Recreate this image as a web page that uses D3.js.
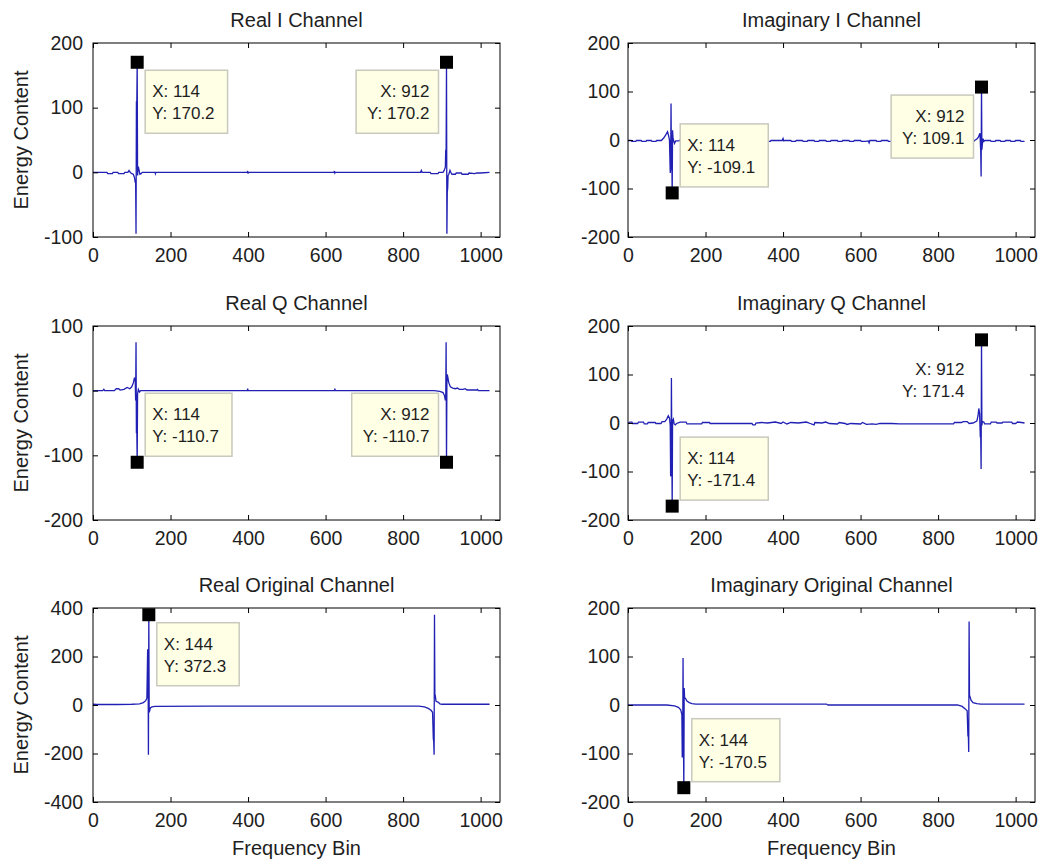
<!DOCTYPE html>
<html>
<head>
  <meta charset="utf-8">
  <title>Channel Spectra</title>
  <script src="https://cdn.jsdelivr.net/npm/d3@7.0.0/dist/d3.min.js"></script>
  <style>
    body { margin: 0; background: #fff; }
    svg text { font-family: "Liberation Sans", Arial, sans-serif; fill: #1e1e1e; }
  </style>
</head>
<body>
  <div id="chart"></div>

  <script>
    // x axis, shared by all six panels
    var xDomain = [0, 1050];
    var xTicks = [0, 200, 400, 600, 800, 1000];

    // spectra as [bin, value]
    var realI = [[0,0],[36,0],[38,-2],[50,-2],[52,0],[64,0],[66,-2],[80,-2],[82,0],[90,0],[93,3],[96,0],[100,-2],[104,-3],[107,-8],[109,-16],[110,-14],[111,-95],[112,110],[113,105],[114,170.2],[115,-5],[116,5],[117,9],[119,3],[121,-3],[124,-2],[127,0],[160,0],[161,-2],[162,0],[398,0],[399,2],[400,-2],[401,0],[622,0],[623,2],[624,-1],[625,0],[845,0],[847,3],[849,0],[870,0],[872,-2],[890,-2],[892,0],[903,0],[906,3],[909,8],[910,35],[911,30],[912,170.2],[913,-95],[914,-30],[915,-25],[916,-5],[918,-3],[921,3],[923,0],[926,-3],[935,-3],[937,-1],[950,-1],[952,-3],[968,-3],[970,-1],[985,-2],[990,-1],[1000,-1],[1023,0]];

    var imagI = [[0,-1],[8,-1],[10,-3],[20,-3],[22,-1],[34,-1],[36,-3],[46,-3],[48,-1],[60,-1],[62,-3],[72,-3],[74,-1],[86,-1],[92,4],[97,10],[102,17],[105,8],[107,0],[109,-68],[110,-60],[111,75],[112,-40],[113,-30],[114,-109.1],[115,20],[116,5],[118,-2],[120,-7],[123,-2],[132,-2],[134,0],[146,0],[148,-3],[158,-3],[160,-1],[175,-1],[177,-3],[187,-3],[189,-1],[205,-1],[207,-3],[217,-3],[219,-1],[235,-1],[237,-3],[247,-3],[249,-1],[265,-1],[267,-3],[277,-3],[279,-1],[295,-1],[297,-3],[307,-3],[309,-1],[325,-1],[327,-3],[337,-3],[339,-1],[355,-1],[357,-3],[367,-3],[369,-1],[385,-1],[398,-1],[400,3],[402,-2],[405,-1],[420,-1],[422,-3],[432,-3],[434,-1],[450,-1],[452,-3],[462,-3],[464,-1],[480,-1],[482,-3],[492,-3],[494,-1],[510,-1],[512,-3],[522,-3],[524,-1],[540,-1],[542,-3],[552,-3],[554,-1],[570,-1],[572,-3],[582,-3],[584,-1],[600,-1],[602,-3],[612,-3],[620,-2],[622,-6],[624,-1],[640,-1],[642,-3],[652,-3],[654,-1],[670,-1],[672,-3],[682,-3],[684,-1],[700,-1],[702,-3],[712,-3],[714,-1],[730,-1],[732,-3],[742,-3],[744,-1],[760,-1],[762,-3],[772,-3],[774,-1],[790,-1],[792,-3],[802,-3],[804,-1],[820,-1],[822,-3],[832,-3],[834,-1],[850,-1],[852,-3],[862,-3],[864,-1],[880,-1],[882,-3],[892,-3],[894,-1],[900,2],[904,6],[908,14],[910,-24],[911,-75],[912,109.1],[913,-20],[914,-10],[916,3],[918,-3],[921,-1],[935,-1],[937,-3],[947,-3],[949,-1],[960,-1],[962,-3],[972,-3],[974,-1],[986,-1],[988,-3],[998,-3],[1000,-1],[1012,-1],[1014,-3],[1023,-3]];

    var realQ = [[0,0],[25,0],[28,2],[30,0],[55,0],[60,3],[66,3],[70,1],[80,2],[88,5],[95,3],[100,6],[104,12],[107,20],[109,15],[110,-15],[111,75],[112,-66],[113,-60],[114,-110.7],[115,-5],[117,2],[120,-2],[123,0],[398,0],[399,3],[400,0],[623,0],[624,3],[625,0],[880,0],[895,-1],[903,-3],[907,-8],[909,-15],[910,-11],[911,75],[912,-110.7],[913,10],[914,25],[915,22],[918,12],[922,6],[928,4],[935,3],[940,4],[945,2],[955,2],[960,3],[965,1],[990,1],[992,2],[994,0],[1023,0]];

    var imagQ = [[0,-1],[5,2],[10,2],[12,-1],[25,-1],[27,2],[40,2],[42,-2],[50,-2],[52,1],[70,1],[72,-1],[85,-1],[88,3],[95,3],[100,8],[104,15],[107,10],[109,-5],[110,-110],[111,-103],[112,93],[113,-40],[114,-171.4],[115,5],[117,8],[119,-2],[122,-4],[125,-1],[135,2],[150,2],[152,-2],[190,-2],[192,1],[210,1],[212,-1],[320,-1],[322,-4],[328,-4],[330,0],[345,1],[360,0],[380,2],[395,-1],[400,2],[410,-2],[420,1],[440,0],[460,2],[470,-1],[480,-4],[482,1],[500,0],[510,2],[520,-1],[540,-2],[545,1],[560,-1],[565,-3],[575,-1],[600,-2],[605,1],[615,-3],[630,-2],[640,-3],[650,-1],[680,-1],[700,-2],[840,-2],[842,1],[860,1],[865,3],[875,3],[880,-1],[890,0],[900,4],[903,15],[905,30],[907,20],[909,-30],[910,-28],[911,-95],[912,171.4],[913,-5],[914,3],[918,2],[920,-2],[935,-2],[937,2],[950,2],[952,0],[965,0],[967,2],[990,2],[992,-1],[1000,-1],[1005,2],[1015,1],[1023,0]];

    var realOrig = [[0,3],[10,2],[60,2],[100,3],[120,5],[130,10],[136,18],[139,28],[141,230],[142,225],[143,-205],[144,372.3],[145,-30],[146,-25],[148,-12],[152,-8],[160,-6],[300,-5],[500,-5],[700,-5],[840,-5],[855,-8],[865,-14],[872,-22],[876,-30],[878,-140],[879,-150],[880,-205],[881,372],[882,45],[883,40],[885,15],[890,12],[895,5],[900,3],[1023,3]];

    var imagOrig = [[0,0],[100,0],[120,-2],[130,-5],[136,-10],[139,-20],[140,-108],[141,-100],[142,97],[143,-60],[144,-170.5],[145,35],[146,15],[148,14],[152,8],[158,5],[165,3],[175,2],[512,2],[516,0],[850,0],[862,-3],[870,-8],[875,-12],[877,-65],[878,-60],[879,-97],[880,172],[881,20],[882,18],[885,10],[890,5],[900,3],[910,2],[1023,2]];

    // data tips [bin, value]
    var realITips = [[114, 170.2], [912, 170.2]];
    var imagITips = [[114, -109.1], [912, 109.1]];
    var realQTips = [[114, -110.7], [912, -110.7]];
    var imagQTips = [[114, -171.4], [912, 171.4]];
    var realOrigTips = [[144, 372.3]];
    var imagOrigTips = [[144, -170.5]];

    // layout
    var colX = [93, 628];
    var rowY = [43, 326, 608];
    var pw = 407, ph = 194;

    var panels = [
      { title: "Real I Channel", data: realI, yDomain: [-100, 200], yTicks: [-100, 0, 100, 200], tips: realITips,
        tipPos: [["right", "below"], ["left", "below"]], col: 0, row: 0 },
      { title: "Imaginary I Channel", data: imagI, yDomain: [-200, 200], yTicks: [-200, -100, 0, 100, 200], tips: imagITips,
        tipPos: [["right", "above"], ["left", "below"]], col: 1, row: 0 },
      { title: "Real Q Channel", data: realQ, yDomain: [-200, 100], yTicks: [-200, -100, 0, 100], tips: realQTips,
        tipPos: [["right", "above"], ["left", "above"]], col: 0, row: 1 },
      { title: "Imaginary Q Channel", data: imagQ, yDomain: [-200, 200], yTicks: [-200, -100, 0, 100, 200], tips: imagQTips,
        tipPos: [["right", "above"], ["left", "below", "plain"]], col: 1, row: 1 },
      { title: "Real Original Channel", data: realOrig, yDomain: [-400, 400], yTicks: [-400, -200, 0, 200, 400], tips: realOrigTips,
        tipPos: [["right", "below"]], col: 0, row: 2 },
      { title: "Imaginary Original Channel", data: imagOrig, yDomain: [-200, 200], yTicks: [-200, -100, 0, 100, 200], tips: imagOrigTips,
        tipPos: [["right", "above"]], col: 1, row: 2 }
    ];

    var svg = d3.select("#chart").append("svg")
      .attr("width", 1041)
      .attr("height", 863);

    var x = d3.scaleLinear().domain(xDomain).range([0, pw]);
    // plain hyphen minus, like the original plot
    var plain = function(d) { return String(d); };

    function styleAxis(sel, size) {
      sel.select(".domain").remove();
      sel.selectAll(".tick line").attr("stroke", "#000");
      sel.selectAll(".tick text")
        .attr("font-family", null)
        .style("font-size", size + "px")
        .attr("fill", "#1e1e1e");
      sel.attr("font-family", null).attr("font-size", null);
    }

    panels.forEach(function(p) {
      var g = svg.append("g")
        .attr("transform", "translate(" + colX[p.col] + "," + rowY[p.row] + ")");

      var y = d3.scaleLinear().domain(p.yDomain).range([ph, 0]);

      // trace
      var line = d3.line()
        .x(function(d) { return x(d[0]); })
        .y(function(d) { return y(d[1]); });

      g.append("path")
        .datum(p.data)
        .attr("d", line)
        .attr("fill", "none")
        .attr("stroke", "#2020b4")
        .attr("stroke-width", 1.3)
        .attr("stroke-linejoin", "miter");

      // axes, ticks pointing inward on all four sides
      g.append("g")
        .attr("transform", "translate(0," + ph + ")")
        .call(d3.axisBottom(x).tickValues(xTicks).tickFormat(plain).tickSizeInner(-5).tickSizeOuter(0).tickPadding(11))
        .call(styleAxis, 19.5);
      g.append("g")
        .call(d3.axisTop(x).tickValues(xTicks).tickSizeInner(-5).tickSizeOuter(0).tickFormat(""))
        .call(styleAxis, 19.5);
      g.append("g")
        .call(d3.axisLeft(y).tickValues(p.yTicks).tickFormat(plain).tickSizeInner(-5).tickSizeOuter(0).tickPadding(p.col === 0 ? 10 : 8))
        .call(styleAxis, 19.5);
      g.append("g")
        .attr("transform", "translate(" + pw + ",0)")
        .call(d3.axisRight(y).tickValues(p.yTicks).tickSizeInner(-5).tickSizeOuter(0).tickFormat(""))
        .call(styleAxis, 19.5);

      g.append("rect")
        .attr("x", 0).attr("y", 0)
        .attr("width", pw).attr("height", ph)
        .attr("fill", "none")
        .attr("stroke", "#000")
        .attr("stroke-width", 1);

      // title
      g.append("text")
        .attr("x", pw / 2)
        .attr("y", -16.5)
        .attr("text-anchor", "middle")
        .style("font-size", "20px")
        .text(p.title);

      if (p.col === 0) {
        g.append("text")
          .attr("transform", "translate(" + (28 - colX[0]) + "," + (ph / 2) + ") rotate(-90)")
          .attr("text-anchor", "middle")
          .style("font-size", "20px")
          .text("Energy Content");
      }
      if (p.row === 2) {
        g.append("text")
          .attr("x", pw / 2)
          .attr("y", ph + 53)
          .attr("text-anchor", "middle")
          .style("font-size", "20px")
          .text("Frequency Bin");
      }

      // data tips
      p.tips.forEach(function(t, i) {
        var pos = p.tipPos[i];
        var mx = x(t[0]), my = y(t[1]);
        var tg = g.append("g");
        var box = tg.append("rect");
        var lines = ["X: " + t[0], "Y: " + t[1].toFixed(1)];
        var texts = lines.map(function(s) {
          return tg.append("text").style("font-size", "17px").text(s);
        });
        var tw = d3.max(texts, function(tx) { return tx.node().getComputedTextLength(); });
        var bw = tw + 20, bh = 63;
        var bx = pos[0] === "right" ? mx + 8 : mx - 8 - bw;
        var by = pos[1] === "below" ? my + 8 : my - 6 - bh;
        if (pos[2] !== "plain") {
          box.attr("x", bx).attr("y", by)
            .attr("width", bw).attr("height", bh)
            .attr("fill", "#ffffe6")
            .attr("stroke", "#c9c9bd")
            .attr("stroke-width", 1.5);
        } else {
          box.remove();
        }
        texts.forEach(function(tx, k) {
          if (pos[0] === "right") {
            tx.attr("x", bx + 7);
          } else {
            tx.attr("x", bx + bw - 9).attr("text-anchor", "end");
          }
          tx.attr("y", by + 27 + k * 22);
        });
        tg.append("rect")
          .attr("x", mx - 6.5).attr("y", my - 6.5)
          .attr("width", 13).attr("height", 13)
          .attr("fill", "#000");
      });
    });
  </script>
</body>
</html>
